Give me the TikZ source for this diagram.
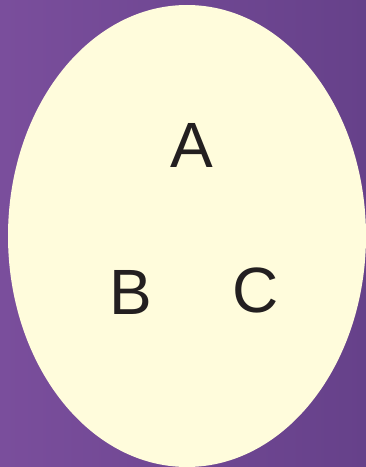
\documentclass[tikz,border=0pt]{standalone}
\usepackage{fontspec}
\setmainfont{Liberation Sans}
\usetikzlibrary{positioning}
\definecolor{setpurpleleft}{HTML}{7A4E9C}
\definecolor{setpurpleright}{HTML}{66418A}
\definecolor{setcream}{HTML}{FFFCDC}
\definecolor{setink}{HTML}{231F20}

\begin{document}
\begin{tikzpicture}[
  x=1pt, y=1pt,
  elem/.style={font=\fontsize{64}{64}\selectfont, text=setink, inner sep=0pt},
]

% ============ background ============
\shade[left color=setpurpleleft, right color=setpurpleright]
  (0,0) rectangle (366,467);
\useasboundingbox (0,0) rectangle (366,467);

% ============ the set ============
\fill[setcream] (187,231) ellipse [x radius=179, y radius=231];

% ============ elements ============
\node[elem] (a) at (192,322) {A};
\node[elem] (b) at (131,175) {B};
\node[elem] (c) at (256,177) {C};

\end{tikzpicture}
\end{document}
